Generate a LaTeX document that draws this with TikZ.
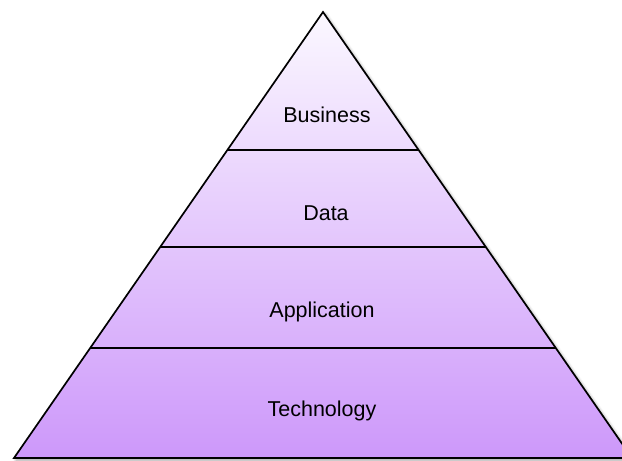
\documentclass[tikz,border=0pt]{standalone}
\usepackage{fontspec}
\setmainfont{Liberation Sans}
\usepackage{tikz}
\usetikzlibrary{calc, shadows.blur}

\definecolor{layertop}{HTML}{FBF8FF}
\definecolor{layerbot}{HTML}{CD98FA}

\begin{document}
\begin{tikzpicture}[x=1pt, y=-1pt, font=\fontsize{21.5}{25}\selectfont,
    divider/.style={line width=2pt, black}]
  \useasboundingbox (0,0) rectangle (622,461);
  \clip (0,0) rectangle (622,461);
  % corners of the pyramid
  \coordinate (apex) at (323,12);
  \coordinate (bl) at (14,458);
  \coordinate (br) at (632,458);
  % pyramid body
  \path[top color=layertop, bottom color=layerbot,
        blur shadow={shadow xshift=2pt, shadow yshift=-2pt,
                     shadow blur radius=3pt, shadow opacity=40}]
    (apex) -- (bl) -- (br) -- cycle;
  \draw[line width=1.7pt, line join=miter] (apex) -- (bl) -- (br) -- cycle;
  % layer borders
  \draw[divider] ($(apex)!0.3094!(bl)$) -- ($(apex)!0.3094!(br)$);
  \draw[divider] ($(apex)!0.5269!(bl)$) -- ($(apex)!0.5269!(br)$);
  \draw[divider] ($(apex)!0.7534!(bl)$) -- ($(apex)!0.7534!(br)$);
  % labels
  \node (business) at (327,115) {Business};
  \node (data) at (326,213) {Data};
  \node (application) at (322,312) {Application};
  \node (technology) at (322,411) {Technology};
\end{tikzpicture}
\end{document}
